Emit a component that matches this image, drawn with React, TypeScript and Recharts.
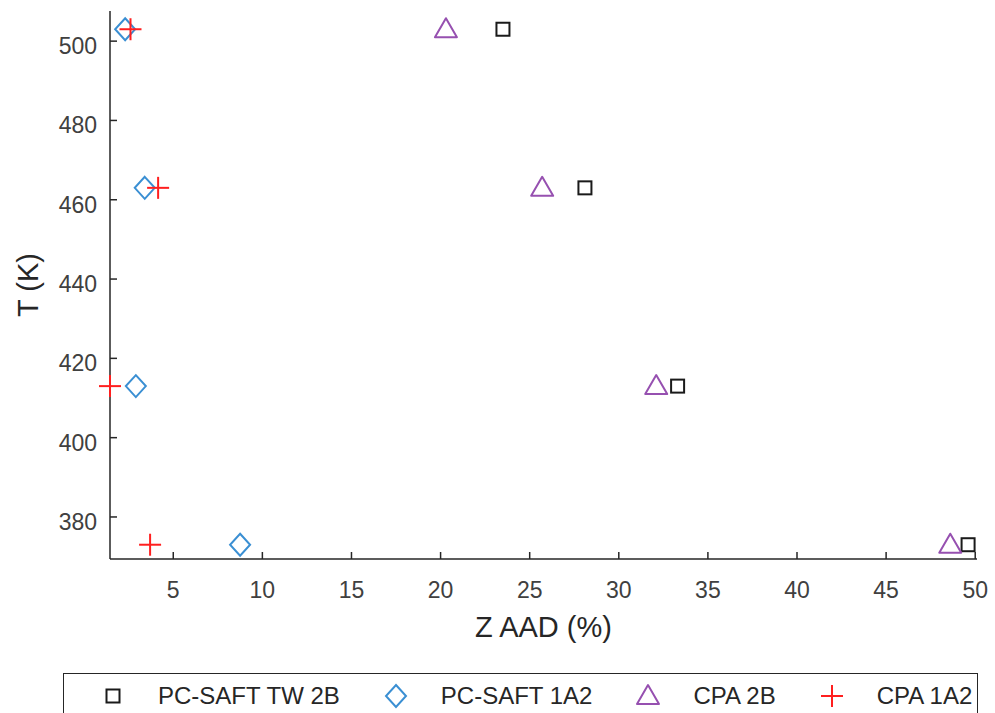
import React from 'react';
import { ScatterChart, Scatter, XAxis, YAxis, Legend, Label } from 'recharts';

const tempK = [503, 463, 413, 373];
const pcSaftTw2B = [23.5, 28.1, 33.3, 49.6];
const pcSaft1A2 = [2.3, 3.4, 2.9, 8.75];
const cpa2B = [20.3, 25.7, 32.1, 48.6];
const cpa1A2 = [2.6, 4.15, 1.45, 3.7];

const xTicks = [5, 10, 15, 20, 25, 30, 35, 40, 45, 50];
const yTicks = [380, 400, 420, 440, 460, 480, 500];
const xDomain = [1.45, 50.1];
const yDomain = [369.4, 507.6];

const seriesNames = ['PC-SAFT TW 2B', 'PC-SAFT 1A2', 'CPA 2B', 'CPA 1A2'];
const seriesColors = ['#1a1a1a', '#3a8fd3', '#9650b0', '#ff1f1f'];

const FONT = '"Liberation Sans", Arial, Helvetica, sans-serif';
const AXIS = '#262626';

const toPoints = (xs: number[]) => xs.map((x, i) => ({ x, y: tempK[i] }));

const Square = ({ cx, cy, color }: any) => (
  <rect x={cx - 6.5} y={cy - 6.5} width={13} height={13} fill="none" stroke={color} strokeWidth={2} />
);
const Diamond = ({ cx, cy, color }: any) => (
  <polygon points={`${cx},${cy - 11} ${cx + 10},${cy} ${cx},${cy + 11} ${cx - 10},${cy}`} fill="none" stroke={color} strokeWidth={2} />
);
const Triangle = ({ cx, cy, color }: any) => (
  <polygon points={`${cx},${cy - 11} ${cx + 11},${cy + 8} ${cx - 11},${cy + 8}`} fill="none" stroke={color} strokeWidth={2} strokeLinejoin="round" />
);
const Plus = ({ cx, cy, color }: any) => (
  <g stroke={color} strokeWidth={2}>
    <line x1={cx - 11} y1={cy} x2={cx + 11} y2={cy} />
    <line x1={cx} y1={cy - 11} x2={cx} y2={cy + 11} />
  </g>
);

const shapes = [Square, Diamond, Triangle, Plus];

const LegendIcon = ({ idx }: { idx: number }) => {
  const S = shapes[idx];
  return (
    <svg width={24} height={24} style={{ display: 'block', overflow: 'visible' }}>
      <S cx={12} cy={12} color={seriesColors[idx]} />
    </svg>
  );
};

const LegendBox = () => (
  <div
    style={{
      boxSizing: 'border-box',
      width: '100%',
      height: 60,
      border: `1.5px solid ${AXIS}`,
      background: '#fff',
      display: 'flex',
      alignItems: 'flex-start',
      paddingLeft: 37,
      fontFamily: FONT,
      fontSize: 24,
      color: AXIS,
    }}
  >
    {seriesNames.map((name, i) => (
      <div key={name} style={{ display: 'flex', alignItems: 'center', height: 44, marginLeft: i === 0 ? 0 : 44 }}>
        <LegendIcon idx={i} />
        <span style={{ marginLeft: 33, whiteSpace: 'nowrap' }}>{name}</span>
      </div>
    ))}
  </div>
);

const YTick = ({ x, y, payload }: any) => (
  <text x={x} y={y + 5} textAnchor="end" dominantBaseline="central" fontSize={23} fill="#404040" fontFamily={FONT}>
    {payload.value}
  </text>
);

export default function App() {
  const data = [pcSaftTw2B, pcSaft1A2, cpa2B, cpa1A2].map(toPoints);
  const tickStyle = { fontSize: 23, fill: '#404040', fontFamily: FONT };
  return (
    <div style={{ position: 'fixed', left: 0, top: 0, width: 995, height: 713, overflow: 'hidden', background: '#fff' }}>
      <ScatterChart width={995} height={713} margin={{ top: 11, right: 18, bottom: 114, left: 0 }}>
        <XAxis
          xAxisId="b"
          dataKey="x"
          type="number"
          domain={xDomain}
          ticks={xTicks}
          orientation="bottom"
          height={40}
          tickSize={-7}
          tickMargin={30}
          tick={tickStyle}
          stroke={AXIS}
          axisLine={{ stroke: AXIS, strokeWidth: 1.5 }}
          tickLine={{ stroke: AXIS, strokeWidth: 1.5 }}
        >
          <Label
            content={({ viewBox }: any) => (
              <text x={viewBox.x + viewBox.width / 2} y={viewBox.y + 78} textAnchor="middle" fontSize={29} fill={AXIS} fontFamily={FONT}>
                Z AAD (%)
              </text>
            )}
          />
        </XAxis>
        <XAxis
          xAxisId="t"
          dataKey="x"
          type="number"
          domain={xDomain}
          ticks={xTicks}
          orientation="top"
          height={0}
          tickSize={-7}
          tickFormatter={() => ''}
          axisLine={{ stroke: AXIS, strokeWidth: 1.5 }}
          tickLine={{ stroke: AXIS, strokeWidth: 1.5 }}
        />
        <YAxis
          yAxisId="l"
          dataKey="y"
          type="number"
          domain={yDomain}
          ticks={yTicks}
          orientation="left"
          width={110}
          tickSize={-7}
          tickMargin={20}
          tick={<YTick />}
          axisLine={{ stroke: AXIS, strokeWidth: 1.5 }}
          tickLine={{ stroke: AXIS, strokeWidth: 1.5 }}
        >
          <Label
            content={({ viewBox }: any) => {
              const cx = 28;
              const cy = viewBox.y + viewBox.height / 2;
              return (
                <text x={cx} y={cy} transform={`rotate(-90, ${cx}, ${cy})`} textAnchor="middle" dominantBaseline="central" fontSize={29} fill={AXIS} fontFamily={FONT}>
                  T (K)
                </text>
              );
            }}
          />
        </YAxis>
        <YAxis
          yAxisId="r"
          dataKey="y"
          type="number"
          domain={yDomain}
          ticks={yTicks}
          orientation="right"
          width={0}
          tickSize={-7}
          tickFormatter={() => ''}
          axisLine={{ stroke: AXIS, strokeWidth: 1.5 }}
          tickLine={{ stroke: AXIS, strokeWidth: 1.5 }}
        />
        {data.map((pts, i) => {
          const S = shapes[i];
          return (
            <Scatter
              key={seriesNames[i]}
              name={seriesNames[i]}
              data={pts}
              xAxisId="b"
              yAxisId="l"
              isAnimationActive={false}
              shape={(p: any) => <S cx={p.cx} cy={p.cy} color={seriesColors[i]} />}
            />
          );
        })}
        <Legend
          layout="horizontal"
          verticalAlign="middle"
          align="center"
          content={() => <LegendBox />}
          wrapperStyle={{ left: 63, top: 673, width: 915, height: 60 }}
        />
      </ScatterChart>
    </div>
  );
}
